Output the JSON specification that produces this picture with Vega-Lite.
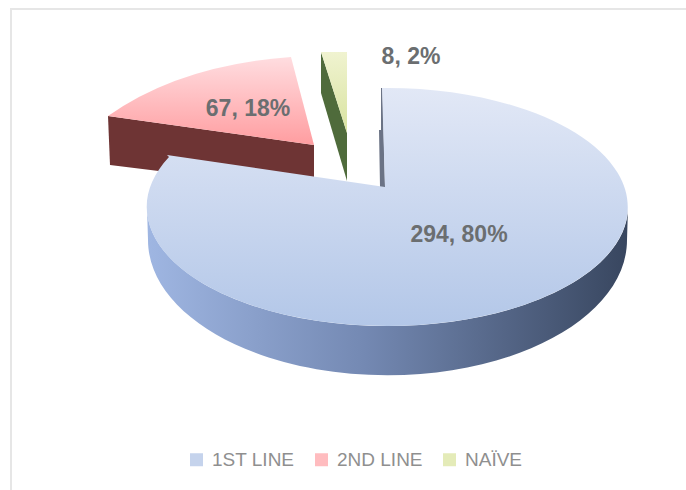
{"$schema":"https://vega.github.io/schema/vega-lite/v6.json","width":678,"height":484,"autosize":"none","padding":{"left":11,"top":9,"right":0,"bottom":0},"background":"white","view":{"stroke":"#e6e6e6","strokeWidth":2,"fill":"white"},"config":{"legend":{"labelFont":"Liberation Sans","labelFontSize":19,"labelColor":"#8f8f8f"}},"data":{"values":[{"line":"2ND LINE","patients":67,"share":18,"label":"67, 18%"},{"line":"NAÏVE","patients":8,"share":2,"label":"8, 2%"},{"line":"1ST LINE","patients":294,"share":80,"label":"294, 80%"}]},"layer":[{"transform":[{"filter":"datum.line === '2ND LINE'"}],"mark":{"type":"point","filled":true,"opacity":1,"size":4,"strokeWidth":0,"fill":"#6e3434","shape":"M-242 -135 L-36 -106 L-36 -61 L-240 -86 Z"}},{"transform":[{"filter":"datum.line === 'NAÏVE'"}],"mark":{"type":"point","filled":true,"opacity":1,"size":4,"strokeWidth":0,"fill":"#4f6b3b","shape":"M-29 -199 L-3 -118 L-3 -70 L-29 -158 Z"}},{"transform":[{"filter":"datum.line === '1ST LINE'"}],"mark":{"type":"point","filled":true,"opacity":1,"size":4,"strokeWidth":0,"fill":{"gradient":"linear","x1":0,"y1":0,"x2":1,"y2":0,"stops":[{"offset":0,"color":"#9fb6e2"},{"offset":0.45,"color":"#7489b3"},{"offset":1,"color":"#38465f"}]},"shape":"M-203 -44 A240.5 119 0 0 0 278 -44 L277 -11 A239 135 0 0 1 -202 -11 Z"}},{"transform":[{"filter":"datum.line === '1ST LINE'"}],"mark":{"type":"point","filled":true,"opacity":1,"size":4,"strokeWidth":0,"fill":"#6b7385","shape":"M31 -163 L32.5 -163 L35 -64 L30 -64 L29 -121 L31 -121 Z"}},{"mark":{"type":"square","opacity":1,"size":0},"encoding":{"color":{"field":"line","type":"nominal","title":null,"scale":{"domain":["1ST LINE","2ND LINE","NAÏVE"],"range":["#c5d3ec","#ffbcbf","#e4ebb8"]},"legend":{"orient":"none","legendX":176,"legendY":441,"direction":"horizontal","symbolType":"square","symbolSize":169,"symbolStrokeWidth":0,"columnPadding":17,"labelOffset":6}}}},{"transform":[{"filter":"datum.line === '1ST LINE'"}],"mark":{"type":"point","filled":true,"opacity":1,"size":4,"strokeWidth":0,"fill":{"gradient":"linear","x1":0,"y1":0,"x2":0,"y2":1,"stops":[{"offset":0,"color":"#e2e8f6"},{"offset":1,"color":"#b3c7e8"}]},"shape":"M35 -64 L32 -163 L35 -163 A240.5 119 0 1 1 -181 -94 L-183 -96 Z"}},{"transform":[{"filter":"datum.line === '2ND LINE'"}],"mark":{"type":"point","filled":true,"opacity":1,"size":4,"strokeWidth":0,"fill":{"gradient":"linear","x1":0,"y1":0,"x2":0,"y2":1,"stops":[{"offset":0,"color":"#ffdde0"},{"offset":1,"color":"#ff9da0"}]},"shape":"M-36 -106 L-59 -194 Q-170 -186 -242 -135 Z"}},{"transform":[{"filter":"datum.line === 'NAÏVE'"}],"mark":{"type":"point","filled":true,"opacity":1,"size":4,"strokeWidth":0,"fill":{"gradient":"linear","x1":0,"y1":0,"x2":0,"y2":1,"stops":[{"offset":0,"color":"#f0f3d0"},{"offset":1,"color":"#d8e3a0"}]},"shape":"M-29 -199 L-3 -199 L-3 -118 Z"}},{"transform":[{"filter":"datum.line === '1ST LINE'"}],"mark":{"type":"text","font":"Liberation Sans","fontWeight":"bold","fontSize":23,"color":"#6b6e70","dx":109,"dy":-16},"encoding":{"text":{"field":"label"}}},{"transform":[{"filter":"datum.line === '2ND LINE'"}],"mark":{"type":"text","font":"Liberation Sans","fontWeight":"bold","fontSize":23,"color":"#6b6e70","dx":-102,"dy":-142},"encoding":{"text":{"field":"label"}}},{"transform":[{"filter":"datum.line === 'NAÏVE'"}],"mark":{"type":"text","font":"Liberation Sans","fontWeight":"bold","fontSize":23,"color":"#6b6e70","dx":61,"dy":-194},"encoding":{"text":{"field":"label"}}}]}
